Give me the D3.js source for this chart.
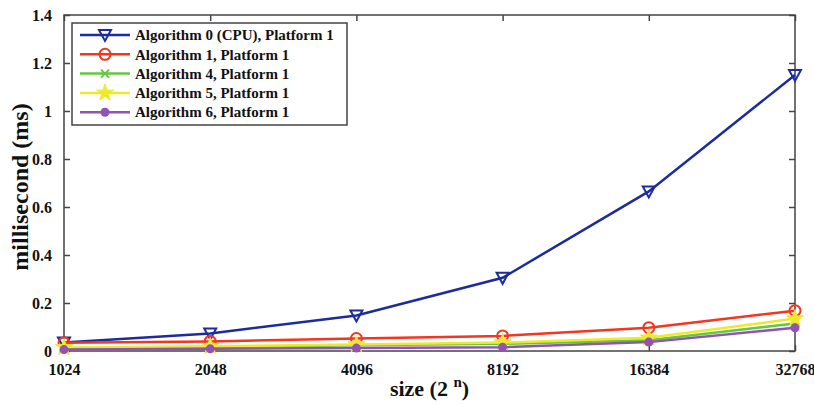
<!DOCTYPE html>
<html>
<head>
<meta charset="utf-8">
<script src="https://cdn.jsdelivr.net/npm/d3@7"></script>
<style>
    body { margin: 0; background: #fff; }
    svg text { font-family: "Liberation Serif", "DejaVu Serif", serif; font-weight: bold; fill: #111; }
</style>
</head>
<body>
<svg id="chart" width="814" height="405"></svg>
<script>
// Chart values.
var sizes = ['1024', '2048', '4096', '8192', '16384', '32768'];
var yTicks = [0, 0.2, 0.4, 0.6, 0.8, 1, 1.2, 1.4];

var alg0 = [0.035, 0.073, 0.148, 0.305, 0.665, 1.15];
var alg1 = [0.034, 0.040, 0.052, 0.063, 0.097, 0.168];
var alg4 = [0.012, 0.017, 0.024, 0.030, 0.045, 0.115];
var alg5 = [0.015, 0.020, 0.027, 0.035, 0.055, 0.135];
var alg6 = [0.006, 0.009, 0.012, 0.016, 0.037, 0.097];

var seriesNames = [
    'Algorithm 0 (CPU), Platform 1',
    'Algorithm 1, Platform 1',
    'Algorithm 4, Platform 1',
    'Algorithm 5, Platform 1',
    'Algorithm 6, Platform 1'
];

var series = [
    { name: seriesNames[0], values: alg0, color: '#1c2c9c', marker: 'triangleDown' },
    { name: seriesNames[1], values: alg1, color: '#f8341c', marker: 'circleOpen' },
    { name: seriesNames[2], values: alg4, color: '#62c83c', marker: 'cross' },
    { name: seriesNames[3], values: alg5, color: '#eeea2a', marker: 'star' },
    { name: seriesNames[4], values: alg6, color: '#9052b4', marker: 'dot' }
];

var margin = { top: 15, right: 19, bottom: 54, left: 64 };
var width = 814, height = 405;

var svg = d3.select('svg#chart');

var x = d3.scalePoint().domain(sizes).range([margin.left, width - margin.right]);
var y = d3.scaleLinear().domain([0, 1.4]).range([height - margin.bottom, margin.top]);

var axisColor = '#444';

// Box and inward ticks, matlab style.
function styleAxis(g) {
    g.select('.domain').remove();
    g.selectAll('line').attr('stroke', axisColor).attr('stroke-width', 1.5);
    g.selectAll('text').style('font-size', '16px');
}

svg.append('g')
    .attr('transform', 'translate(0,' + y(0) + ')')
    .call(d3.axisBottom(x).tickSize(-6).tickPadding(13))
    .call(styleAxis);

svg.append('g')
    .attr('transform', 'translate(0,' + y(1.4) + ')')
    .call(d3.axisTop(x).tickSize(-6).tickFormat(''))
    .call(styleAxis);

svg.append('g')
    .attr('transform', 'translate(' + x(sizes[0]) + ',0)')
    .call(d3.axisLeft(y).tickValues(yTicks).tickSize(-6).tickPadding(12).tickFormat(d3.format('~g')))
    .call(styleAxis);

svg.append('g')
    .attr('transform', 'translate(' + x(sizes[sizes.length - 1]) + ',0)')
    .call(d3.axisRight(y).tickValues(yTicks).tickSize(-6).tickFormat(''))
    .call(styleAxis);

svg.append('rect')
    .attr('x', x(sizes[0]))
    .attr('y', y(1.4))
    .attr('width', x(sizes[sizes.length - 1]) - x(sizes[0]))
    .attr('height', y(0) - y(1.4))
    .attr('fill', 'none')
    .attr('stroke', axisColor)
    .attr('stroke-width', 1.5);

// Lines
var line = d3.line()
    .x(function(d, i) { return x(sizes[i]); })
    .y(function(d) { return y(d); });

var plot = svg.append('g');

function drawMarker(g, type, color) {
    switch (type) {
        case 'triangleDown':
            g.append('path')
                .attr('d', 'M-6,-5 L6,-5 L0,6 Z')
                .attr('fill', 'none').attr('stroke', color).attr('stroke-width', 2);
            break;
        case 'circleOpen':
            g.append('circle').attr('r', 5.5)
                .attr('fill', 'none').attr('stroke', color).attr('stroke-width', 2);
            break;
        case 'cross':
            g.append('path')
                .attr('d', 'M-4,-4 L4,4 M-4,4 L4,-4')
                .attr('stroke', color).attr('stroke-width', 2);
            break;
        case 'star':
            g.append('path')
                .attr('d', d3.symbol().type(d3.symbolStar).size(90)())
                .attr('fill', color).attr('stroke', color).attr('stroke-width', 1);
            break;
        default:
            g.append('circle').attr('r', 4.5).attr('fill', color);
    }
}

series.forEach(function(s) {
    plot.append('path')
        .datum(s.values)
        .attr('d', line)
        .attr('fill', 'none')
        .attr('stroke', s.color)
        .attr('stroke-width', 2.5);

    s.values.forEach(function(v, i) {
        var m = plot.append('g').attr('transform', 'translate(' + x(sizes[i]) + ',' + y(v) + ')');
        drawMarker(m, s.marker, s.color);
    });
});

// Legend
var legend = svg.append('g').attr('transform', 'translate(72,23)');
legend.append('rect')
    .attr('width', 275).attr('height', 102)
    .attr('fill', '#fff').attr('stroke', axisColor).attr('stroke-width', 1.5);

series.forEach(function(s, i) {
    var row = legend.append('g').attr('transform', 'translate(0,' + (12 + i * 19.3) + ')');
    row.append('line')
        .attr('x1', 8).attr('x2', 58)
        .attr('stroke', s.color).attr('stroke-width', 2.5);
    drawMarker(row.append('g').attr('transform', 'translate(33,0)'), s.marker, s.color);
    row.append('text')
        .attr('x', 63).attr('dy', '0.35em')
        .style('font-size', '15px')
        .text(s.name);
});

// Axis labels
svg.append('text')
    .attr('transform', 'translate(28,187) rotate(-90)')
    .attr('text-anchor', 'middle')
    .style('font-size', '24px')
    .text('millisecond (ms)');

var xl = svg.append('text')
    .attr('x', (x(sizes[0]) + x(sizes[sizes.length - 1])) / 2)
    .attr('y', 396)
    .attr('text-anchor', 'middle')
    .style('font-size', '22px');
xl.append('tspan').text('size (2 ');
xl.append('tspan').attr('dy', -9).style('font-size', '15px').text('n');
xl.append('tspan').attr('dy', 9).text(')');
</script>
</body>
</html>
